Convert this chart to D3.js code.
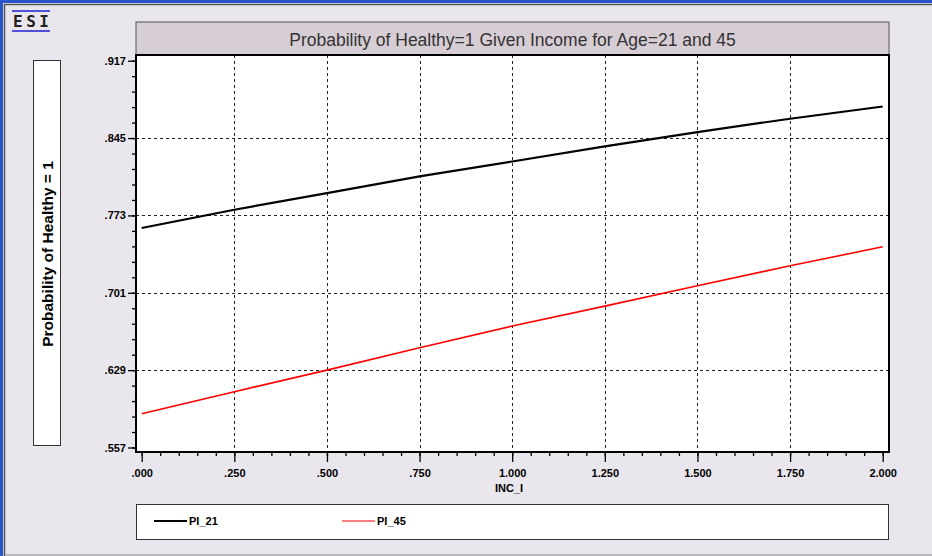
<!DOCTYPE html>
<html>
<head>
<meta charset="utf-8">
<script src="https://cdn.jsdelivr.net/npm/d3@7"></script>
<style>
	body { margin: 0; background: #e9e6ed; }
	svg { display: block; }
	.tick text { font-family: "Liberation Sans", Arial, sans-serif; font-weight: bold; font-size: 11px; fill: #000; }
</style>
</head>
<body>
<div id="chart-area"></div>
<script>
// data
var incomes = [0, 0.25, 0.5, 0.75, 1.0, 1.25, 1.5, 1.75, 2.0];
var pi21 = [0.7613, 0.7783, 0.7938, 0.8093, 0.8232, 0.8372, 0.8506, 0.8630, 0.8744];
var pi45 = [0.5884, 0.6089, 0.6290, 0.6498, 0.6700, 0.6886, 0.7075, 0.7261, 0.7438];
var yTicks = [0.557, 0.629, 0.701, 0.773, 0.845, 0.917];
var xTicks = [0, 0.25, 0.5, 0.75, 1.0, 1.25, 1.5, 1.75, 2.0];
var seriesNames = ['PI_21', 'PI_45'];
var seriesColors = ['#000000', '#ff0000'];
var titleText = 'Probability of Healthy=1 Given Income for Age=21 and 45';
var xLabel = 'INC_I';
var yLabel = 'Probability of Healthy = 1';

var width = 932;
var height = 556;
var frame = { left: 136, right: 889, top: 55, bottom: 452 };

var svg = d3.select('#chart-area')
	.append('svg')
	.attr('width', width)
	.attr('height', height);

// window background and borders
svg.append('rect')
	.attr('width', width)
	.attr('height', height)
	.attr('fill', '#e9e6ed');
svg.append('line')
	.attr('x1', 0).attr('x2', width).attr('y1', 1.5).attr('y2', 1.5)
	.attr('stroke', '#2a55c8').attr('stroke-width', 3);
svg.append('line')
	.attr('x1', 1.5).attr('x2', 1.5).attr('y1', 0).attr('y2', height)
	.attr('stroke', '#2a55c8').attr('stroke-width', 3);
svg.append('line')
	.attr('x1', 4).attr('x2', width).attr('y1', 4.5).attr('y2', 4.5)
	.attr('stroke', '#555').attr('stroke-width', 1.5);
svg.append('line')
	.attr('x1', 4.5).attr('x2', 4.5).attr('y1', 4).attr('y2', height)
	.attr('stroke', '#555').attr('stroke-width', 1.5);
svg.append('line')
	.attr('x1', 5).attr('x2', width).attr('y1', 555).attr('y2', 555)
	.attr('stroke', '#aaa').attr('stroke-width', 1.5);

// ESI logo
var logo = svg.append('g');
logo.append('rect').attr('x', 12).attr('y', 10).attr('width', 38).attr('height', 2).attr('fill', '#5050d8');
logo.append('rect').attr('x', 12).attr('y', 30).attr('width', 38).attr('height', 2).attr('fill', '#5050d8');
logo.append('text')
	.attr('x', 31)
	.attr('y', 27)
	.attr('text-anchor', 'middle')
	.attr('font-family', '"DejaVu Sans Mono", monospace')
	.attr('font-weight', 'bold')
	.attr('font-size', '16px')
	.attr('fill', '#222')
	.attr('textLength', 36)
	.text('ESI');

// title box
svg.append('rect')
	.attr('x', frame.left)
	.attr('y', 22)
	.attr('width', frame.right - frame.left)
	.attr('height', frame.top - 22)
	.attr('fill', '#d7cdd4')
	.attr('stroke', '#555')
	.attr('stroke-width', 1);
svg.append('text')
	.attr('x', (frame.left + frame.right) / 2)
	.attr('y', 46)
	.attr('text-anchor', 'middle')
	.attr('font-family', '"Liberation Sans", Arial, sans-serif')
	.attr('font-size', '17.5px')
	.attr('fill', '#333')
	.text(titleText);

// y label box
svg.append('rect')
	.attr('x', 33.5)
	.attr('y', 60.5)
	.attr('width', 27)
	.attr('height', 385)
	.attr('fill', '#fff')
	.attr('stroke', '#333')
	.attr('stroke-width', 1);
svg.append('text')
	.attr('transform', 'translate(52.5, 254) rotate(-90)')
	.attr('text-anchor', 'middle')
	.attr('font-family', '"Liberation Sans", Arial, sans-serif')
	.attr('font-weight', 'bold')
	.attr('font-size', '15.5px')
	.attr('fill', '#000')
	.text(yLabel);

var x = d3.scaleLinear()
	.domain([0, 2])
	.range([141.7, 882.7]);
var y = d3.scaleLinear()
	.domain([0.557, 0.917])
	.range([447.5, 60.7]);

var fmt = d => d3.format('.3f')(d).replace(/^0\./, '.');

// plot area
svg.append('rect')
	.attr('x', frame.left)
	.attr('y', frame.top)
	.attr('width', frame.right - frame.left)
	.attr('height', frame.bottom - frame.top)
	.attr('fill', '#fff');

// grid
svg.append('g')
	.selectAll('line')
	.data(xTicks.slice(1, -1))
	.enter().append('line')
	.attr('x1', d => Math.round(x(d)) + 0.5)
	.attr('x2', d => Math.round(x(d)) + 0.5)
	.attr('y1', frame.top)
	.attr('y2', frame.bottom)
	.attr('stroke', '#222')
	.attr('stroke-dasharray', '3,3');
svg.append('g')
	.selectAll('line')
	.data(yTicks.slice(1, -1))
	.enter().append('line')
	.attr('x1', frame.left)
	.attr('x2', frame.right)
	.attr('y1', d => Math.round(y(d)) + 0.5)
	.attr('y2', d => Math.round(y(d)) + 0.5)
	.attr('stroke', '#222')
	.attr('stroke-dasharray', '3,3');

// series lines
var line = d3.line()
	.x((d, i) => x(incomes[i]))
	.y(d => y(d));
[pi21, pi45].forEach((s, i) => {
	svg.append('path')
		.datum(s)
		.attr('fill', 'none')
		.attr('stroke', seriesColors[i])
		.attr('stroke-width', i == 0 ? 2.2 : 1.6)
		.attr('d', line);
});

// frame
svg.append('rect')
	.attr('x', frame.left)
	.attr('y', frame.top)
	.attr('width', frame.right - frame.left)
	.attr('height', frame.bottom - frame.top)
	.attr('fill', 'none')
	.attr('stroke', '#000')
	.attr('stroke-width', 2);

// y axis
var yMinor = d3.range(0, 26).map(i => 0.557 + i * 0.0144);
svg.append('g')
	.attr('transform', `translate(${frame.left}, 0)`)
	.call(d3.axisLeft(y).tickValues(yMinor).tickSize(4).tickFormat(''))
	.call(g => g.select('.domain').remove());
svg.append('g')
	.attr('transform', `translate(${frame.left}, 0)`)
	.call(d3.axisLeft(y).tickValues(yTicks).tickSize(8).tickPadding(2).tickFormat(fmt))
	.call(g => g.select('.domain').remove());

// x axis
var xMinor = d3.range(0, 41).map(i => i * 0.05);
svg.append('g')
	.attr('transform', `translate(0, ${frame.bottom})`)
	.call(d3.axisBottom(x).tickValues(xMinor).tickSize(4).tickFormat(''))
	.call(g => g.select('.domain').remove());
svg.append('g')
	.attr('transform', `translate(0, ${frame.bottom})`)
	.call(d3.axisBottom(x).tickValues(xTicks).tickSize(10).tickPadding(7).tickFormat(fmt))
	.call(g => g.select('.domain').remove());
svg.selectAll('.tick line').attr('stroke', '#000').attr('stroke-width', 1.3);

svg.append('text')
	.attr('x', 509)
	.attr('y', 492)
	.attr('text-anchor', 'middle')
	.attr('font-family', '"Liberation Sans", Arial, sans-serif')
	.attr('font-weight', 'bold')
	.attr('font-size', '11px')
	.text(xLabel);

// legend
svg.append('rect')
	.attr('x', frame.left + 0.5)
	.attr('y', 504.5)
	.attr('width', frame.right - frame.left - 1)
	.attr('height', 35)
	.attr('fill', '#fff')
	.attr('stroke', '#333')
	.attr('stroke-width', 1);

var legendX = [154, 342];
seriesNames.forEach((name, i) => {
	var row = svg.append('g')
		.attr('transform', `translate(${legendX[i]}, 521)`);
	row.append('line')
		.attr('x1', 0)
		.attr('x2', 33)
		.attr('stroke', seriesColors[i])
		.attr('stroke-width', i == 0 ? 2 : 1.2);
	row.append('text')
		.attr('x', 35)
		.attr('y', 4)
		.attr('font-family', '"Liberation Sans", Arial, sans-serif')
		.attr('font-weight', 'bold')
		.attr('font-size', '11px')
		.text(name);
});
</script>
</body>
</html>
